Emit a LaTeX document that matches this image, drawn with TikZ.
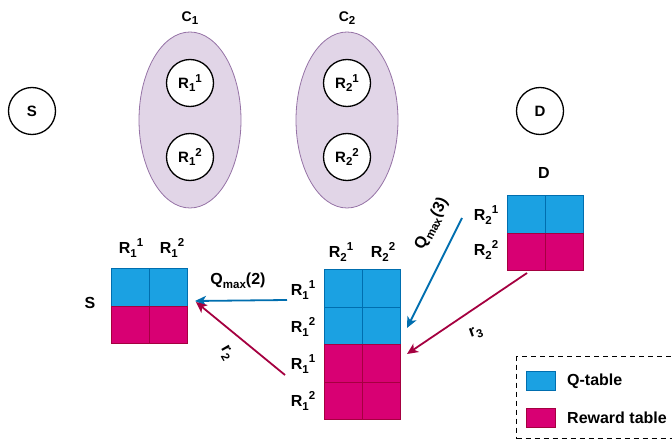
\documentclass[tikz,border=0pt]{standalone}
\usepackage{fontspec}
\setmainfont{Liberation Sans}
\usetikzlibrary{arrows.meta,shapes.geometric}
\definecolor{qfill}{HTML}{1BA1E2}
\definecolor{qline}{HTML}{006EAF}
\definecolor{rfill}{HTML}{D80073}
\definecolor{rline}{HTML}{A50040}
\definecolor{cfill}{HTML}{E1D5E7}
\definecolor{cline}{HTML}{9673A6}
\newcommand{\dn}[1]{\raisebox{-0.45ex}{\fontsize{11.5}{12}\selectfont #1}}
\newcommand{\up}[1]{\raisebox{0.75ex}{\fontsize{11.5}{12}\selectfont #1}}
\newcommand{\Rlab}[2]{R\dn{#1}\up{#2}}
\begin{document}
\begin{tikzpicture}[x=1pt,y=-1pt,
  font=\fontsize{16}{18}\selectfont\bfseries,
  state/.style={circle,draw,line width=1.3pt,minimum size=47pt,inner sep=0pt,fill=white,font=\fontsize{15}{17}\selectfont\bfseries},
  cluster/.style={ellipse,draw=cline,fill=cfill,line width=0.8pt,minimum width=102pt,minimum height=176pt,inner sep=0pt},
  qcell/.style={draw=qline,fill=qfill,line width=0.8pt,minimum width=38pt,minimum height=37.5pt,anchor=north west,inner sep=0pt},
  rcell/.style={draw=rline,fill=rfill,line width=0.8pt,minimum width=38pt,minimum height=37.5pt,anchor=north west,inner sep=0pt},
  lbl/.style={inner sep=1pt},
  qarrow/.style={draw=qline,line width=1.8pt,-{Stealth[length=11pt,width=10pt,inset=3pt]}},
  rarrow/.style={draw=rline,line width=1.8pt,-{Stealth[length=11pt,width=10pt,inset=3pt]}},
  legbox/.style={draw=qline,fill=qfill,line width=0.8pt,minimum width=29pt,minimum height=19pt,inner sep=0pt},
  legboxr/.style={draw=rline,fill=rfill,line width=0.8pt,minimum width=29pt,minimum height=19pt,inner sep=0pt}
]
\useasboundingbox (0,0) rectangle (672,441);
\clip (0,0) rectangle (672,441);

% top graph
\node[state] (S) at (32,111) {S};
\node[state] (D) at (540,111) {D};
\node[cluster] (C1) at (190,120) {};
\node[cluster] (C2) at (347,120) {};
\node[lbl,font=\fontsize{14}{16}\selectfont\bfseries] (C1l) at (190,18) {C\dn{1}};
\node[lbl,font=\fontsize{14}{16}\selectfont\bfseries] (C2l) at (347,18) {C\dn{2}};
\node[state] (R11) at (190,83) {\Rlab{1}{1}};
\node[state] (R12) at (190,157) {\Rlab{1}{2}};
\node[state] (R21) at (347,83) {\Rlab{2}{1}};
\node[state] (R22) at (347,157) {\Rlab{2}{2}};

% S table
\node[qcell] (s11) at (111,268) {};
\node[qcell] (s12) at (149,268) {};
\node[rcell] (s21) at (111,305.5) {};
\node[rcell] (s22) at (149,305.5) {};
\node[lbl] (sc1) at (131,248) {\Rlab{1}{1}};
\node[lbl] (sc2) at (172,248) {\Rlab{1}{2}};
\node[lbl] (sr) at (90,303) {S};

% middle table
\foreach \c/\x in {1/324,2/362}{
  \node[qcell] (m1\c) at (\x,269) {};
  \node[qcell] (m2\c) at (\x,306.5) {};
  \node[rcell] (m3\c) at (\x,344) {};
  \node[rcell] (m4\c) at (\x,381.5) {};
}
\node[lbl] (mc1) at (341,252) {\Rlab{2}{1}};
\node[lbl] (mc2) at (383,252) {\Rlab{2}{2}};
\node[lbl] (mr1) at (303,290) {\Rlab{1}{1}};
\node[lbl] (mr2) at (303,327) {\Rlab{1}{2}};
\node[lbl] (mr3) at (303,364) {\Rlab{1}{1}};
\node[lbl] (mr4) at (303,401) {\Rlab{1}{2}};

% D table
\node[qcell] (d11) at (507,195) {};
\node[qcell] (d12) at (545,195) {};
\node[rcell] (d21) at (507,232.5) {};
\node[rcell] (d22) at (545,232.5) {};
\node[lbl] (dl) at (544,173) {D};
\node[lbl] (dr1) at (486,215) {\Rlab{2}{1}};
\node[lbl] (dr2) at (486,250) {\Rlab{2}{2}};

% arrows
\coordinate (a2s) at (287,300);
\coordinate (a2e) at (195,301);
\coordinate (b2s) at (285,375);
\coordinate (b2e) at (196,302);
\coordinate (a3s) at (462,218);
\coordinate (a3e) at (407,328);
\coordinate (b3s) at (527,273);
\coordinate (b3e) at (407,354);
\draw[qarrow] (a2s) -- (a2e);
\draw[rarrow] (b2s) -- (b2e);
\draw[qarrow] (a3s) -- (a3e);
\draw[rarrow] (b3s) -- (b3e);
\node[lbl] (q2) at (238,281) {Q\dn{max}(2)};
\node[lbl,rotate=-60] (r2) at (226,353) {r\dn{2}};
\node[lbl,rotate=63] (q3) at (432,224) {Q\dn{max}(3)};
\node[lbl,rotate=20] (r3) at (476,333) {r\dn{3}};

% legend
\node[draw,dashed,dash pattern=on 5pt off 4pt,line width=1pt,minimum width=180pt,minimum height=82pt,anchor=north west,inner sep=0pt] (leg) at (516,356) {};
\node[legbox] (lq) at (540.5,380.5) {};
\node[legboxr] (lr) at (540.5,417.5) {};
\node[lbl,anchor=west] (lqt) at (566,381) {Q-table};
\node[lbl,anchor=west] (lrt) at (566,418) {Reward table};
\end{tikzpicture}
\end{document}
